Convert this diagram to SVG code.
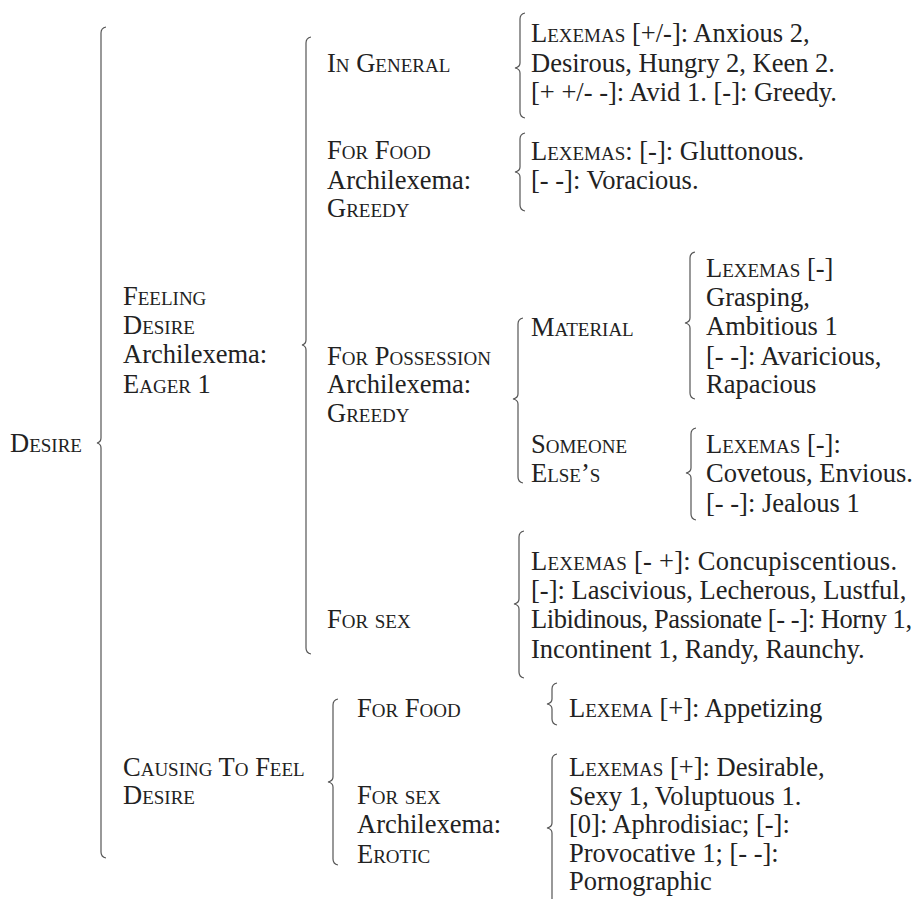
<svg xmlns="http://www.w3.org/2000/svg" width="918" height="899" viewBox="0 0 918 899">
<style>
.t{font-family:"Liberation Serif","Times New Roman",serif;font-size:26.5px;fill:#222}
.sc{font-variant:small-caps}
.b{fill:none;stroke:#555;stroke-width:1.2}
</style>
<rect width="918" height="899" fill="#fff"/>
<g id="connectors">
<path class="b" d="M106 27 Q101 28 101 33 L101 438 Q101 442 97 443 Q101 444 101 448 L101 852 Q101 857 106 858"/>
<path class="b" d="M311 37 Q306 38 306 43 L306 340 Q306 344 302 345 Q306 346 306 350 L306 648 Q306 653 311 654"/>
<path class="b" d="M525 13 Q520 14 520 19 L520 63 Q520 67 515 68 Q520 69 520 73 L520 112 Q520 117 525 118"/>
<path class="b" d="M525 133 Q520 134 520 139 L520 167 Q520 171 515 172 Q520 173 520 177 L520 205 Q520 210 525 211"/>
<path class="b" d="M523 318 Q518 319 518 324 L518 394 Q518 398 513 399 Q518 400 518 404 L518 477 Q518 482 523 483"/>
<path class="b" d="M695 252 Q690 253 690 258 L690 318 Q690 322 685 323 Q690 324 690 328 L690 393 Q690 398 695 399"/>
<path class="b" d="M696 428 Q691 429 691 434 L691 468 Q691 472 686 473 Q691 474 691 478 L691 514 Q691 519 696 520"/>
<path class="b" d="M524 531 Q519 532 519 537 L519 599 Q519 603 514 604 Q519 605 519 609 L519 672 Q519 677 524 678"/>
<path class="b" d="M338 699 Q333 700 333 705 L333 777 Q333 781 328 782 Q333 783 333 787 L333 859 Q333 864 338 865"/>
<path class="b" d="M557 683 Q552 684 552 689 L552 699 Q552 703 547 704 Q552 705 552 709 L552 719 Q552 724 557 725"/>
<path class="b" d="M557 754 Q552 755 552 760 L552 823 Q552 827 547 828 Q552 829 552 833 L552 905"/>
</g>
<g id="desire"><text class="t sc" x="10" y="452">Desire</text></g>
<g id="feeling-desire">
<text class="t" x="123" y="305"><tspan class="sc">Feeling</tspan></text>
<text class="t" x="123" y="334"><tspan class="sc">Desire</tspan></text>
<text class="t" x="123" y="363">Archilexema:</text>
<text class="t" x="123" y="393"><tspan class="sc">Eager</tspan> 1</text>
</g>
<g id="in-general"><text class="t sc" x="327" y="72">In General</text></g>
<g id="in-general-lexemas">
<text class="t" x="531" y="42"><tspan class="sc">Lexemas</tspan> [+/-]: Anxious 2,</text>
<text class="t" x="531" y="72">Desirous, Hungry 2, Keen 2.</text>
<text class="t" x="531" y="101">[+ +/- -]: Avid 1. [-]: Greedy.</text>
</g>
<g id="for-food">
<text class="t sc" x="327" y="159">For Food</text>
<text class="t" x="327" y="189">Archilexema:</text>
<text class="t sc" x="327" y="217">Greedy</text>
</g>
<g id="for-food-lexemas">
<text class="t" x="531" y="160"><tspan class="sc">Lexemas</tspan>: [-]: Gluttonous.</text>
<text class="t" x="531" y="189">[- -]: Voracious.</text>
</g>
<g id="for-possession">
<text class="t sc" x="327" y="365">For Possession</text>
<text class="t" x="327" y="393">Archilexema:</text>
<text class="t sc" x="327" y="422">Greedy</text>
</g>
<g id="material"><text class="t sc" x="531" y="336">Material</text></g>
<g id="material-lexemas">
<text class="t" x="706" y="277"><tspan class="sc">Lexemas</tspan> [-]</text>
<text class="t" x="706" y="306">Grasping,</text>
<text class="t" x="706" y="335">Ambitious 1</text>
<text class="t" x="706" y="365">[- -]: Avaricious,</text>
<text class="t" x="706" y="393">Rapacious</text>
</g>
<g id="someone-elses">
<text class="t sc" x="531" y="453">Someone</text>
<text class="t sc" x="531" y="482">Else’s</text>
</g>
<g id="someone-elses-lexemas">
<text class="t" x="706" y="453"><tspan class="sc">Lexemas</tspan> [-]:</text>
<text class="t" x="706" y="482">Covetous, Envious.</text>
<text class="t" x="706" y="512">[- -]: Jealous 1</text>
</g>
<g id="for-sex"><text class="t sc" x="327" y="628">For sex</text></g>
<g id="for-sex-lexemas">
<text class="t" x="531" y="570" textLength="366" lengthAdjust="spacing"><tspan class="sc">Lexemas</tspan> [- +]: Concupiscentious.</text>
<text class="t" x="531" y="599">[-]: Lascivious, Lecherous, Lustful,</text>
<text class="t" x="531" y="628" textLength="381" lengthAdjust="spacing">Libidinous, Passionate [- -]: Horny 1,</text>
<text class="t" x="531" y="658">Incontinent 1, Randy, Raunchy.</text>
</g>
<g id="causing-to-feel-desire">
<text class="t sc" x="123" y="776">Causing To Feel</text>
<text class="t sc" x="123" y="804">Desire</text>
</g>
<g id="causing-for-food"><text class="t sc" x="357" y="717">For Food</text></g>
<g id="appetizing"><text class="t" x="569" y="717"><tspan class="sc">Lexema</tspan> [+]: Appetizing</text></g>
<g id="causing-for-sex">
<text class="t sc" x="357" y="804">For sex</text>
<text class="t" x="357" y="833">Archilexema:</text>
<text class="t sc" x="357" y="863">Erotic</text>
</g>
<g id="erotic-lexemas">
<text class="t" x="569" y="776"><tspan class="sc">Lexemas</tspan> [+]: Desirable,</text>
<text class="t" x="569" y="805">Sexy 1, Voluptuous 1.</text>
<text class="t" x="569" y="833">[0]: Aphrodisiac; [-]:</text>
<text class="t" x="569" y="862">Provocative 1; [- -]:</text>
<text class="t" x="569" y="890">Pornographic</text>
</g>
</svg>
